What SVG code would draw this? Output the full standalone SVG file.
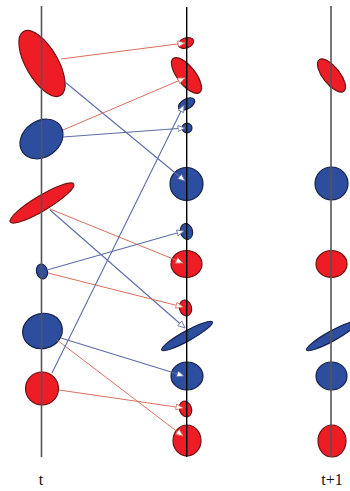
<svg xmlns="http://www.w3.org/2000/svg" width="350" height="491" viewBox="0 0 350 491">
<style>
.r{fill:#ee1c24;stroke:#6e1212;stroke-width:1.2}
.b{fill:#2d4d9e;stroke:#17224d;stroke-width:1.2}
.ax{stroke:#555;stroke-width:1.6}
.axm{stroke:#000;stroke-width:1.4}
.cr{stroke:#d9705f;stroke-width:1;fill:none;marker-end:url(#ar)}
.cb{stroke:#5d6ca6;stroke-width:1.1;fill:none;marker-end:url(#ab)}
.lbl{font-family:"Liberation Serif",serif;font-size:16px;fill:#111;text-anchor:middle}
</style>
<defs>
<marker id="ar" markerUnits="userSpaceOnUse" markerWidth="8" markerHeight="7" refX="7.5" refY="3.5" orient="auto"><path d="M0.5,0.5 L7.5,3.5 L0.5,6.5 z" fill="#fff" stroke="#d9705f" stroke-width="0.8"/></marker>
<marker id="ab" markerUnits="userSpaceOnUse" markerWidth="8" markerHeight="7" refX="7.5" refY="3.5" orient="auto"><path d="M0.5,0.5 L7.5,3.5 L0.5,6.5 z" fill="#fff" stroke="#5d6ca6" stroke-width="0.8"/></marker>
</defs>
<rect width="350" height="491" fill="#fff"/>
<!-- left column (t) -->
<g id="L1"><ellipse class="r" cx="0" cy="0" rx="37" ry="16" transform="translate(42,63.5) rotate(60)"/></g>
<g id="L2"><ellipse class="b" cx="0" cy="0" rx="23" ry="18" transform="translate(41.5,139) rotate(-35)"/></g>
<g id="L3"><ellipse class="r" cx="0" cy="0" rx="37" ry="7.5" transform="translate(42,203) rotate(-31)"/></g>
<g id="L4"><ellipse class="b" cx="0" cy="0" rx="5.5" ry="7.5" transform="translate(42,271.5) rotate(-15)"/></g>
<g id="L5"><ellipse class="b" cx="0" cy="0" rx="20" ry="17.5" transform="translate(42.5,331) rotate(-15)"/></g>
<g id="L6"><ellipse class="r" cx="42" cy="388.5" rx="16.5" ry="16.5"/></g>
<!-- middle column -->
<g id="M1"><ellipse class="r" cx="0" cy="0" rx="8" ry="5" transform="translate(186,43) rotate(-20)"/></g>
<g id="M2"><ellipse class="r" cx="0" cy="0" rx="21.5" ry="9" transform="translate(186.5,75.5) rotate(52)"/></g>
<g id="M3"><ellipse class="b" cx="0" cy="0" rx="9" ry="5" transform="translate(186.5,104) rotate(-30)"/></g>
<g id="M4"><ellipse class="b" cx="187" cy="128" rx="5" ry="4.8"/></g>
<g id="M5"><ellipse class="b" cx="186.5" cy="184" rx="16.5" ry="16.5"/></g>
<g id="M6"><ellipse class="b" cx="0" cy="0" rx="6" ry="8" transform="translate(186.5,231.5) rotate(-15)"/></g>
<g id="M7"><ellipse class="r" cx="186.5" cy="264" rx="15.5" ry="13.5"/></g>
<g id="M8"><ellipse class="r" cx="0" cy="0" rx="6" ry="8" transform="translate(185.5,308) rotate(-15)"/></g>
<g id="M9"><ellipse class="b" cx="0" cy="0" rx="29" ry="5" transform="translate(187,336) rotate(-29)"/></g>
<g id="M10"><ellipse class="b" cx="187" cy="376" rx="16" ry="14"/></g>
<g id="M11"><ellipse class="r" cx="0" cy="0" rx="6" ry="8" transform="translate(185.5,409) rotate(-20)"/></g>
<g id="M12"><ellipse class="r" cx="187" cy="440.5" rx="14" ry="15.5"/></g>
<!-- right column (t+1) -->
<g id="R1"><ellipse class="r" cx="0" cy="0" rx="20" ry="8.5" transform="translate(331.5,75.5) rotate(52)"/></g>
<g id="R2"><ellipse class="b" cx="331.5" cy="183.5" rx="16.5" ry="16.5"/></g>
<g id="R3"><ellipse class="r" cx="331.5" cy="264" rx="15.5" ry="13.5"/></g>
<g id="R4"><ellipse class="b" cx="0" cy="0" rx="29" ry="5" transform="translate(332,336) rotate(-29)"/></g>
<g id="R5"><ellipse class="b" cx="331.5" cy="376" rx="15.5" ry="14"/></g>
<g id="R6"><ellipse class="r" cx="332" cy="441" rx="14" ry="16"/></g>
<!-- axes -->
<g id="axes">
<line class="ax" x1="41.5" y1="6" x2="41.5" y2="457"/>
<line class="axm" x1="186.7" y1="7" x2="186.7" y2="457"/>
<line class="ax" x1="331" y1="6" x2="331" y2="457"/>
</g>
<!-- connectors -->
<g id="connectors">
<line class="cr" x1="61" y1="59" x2="185" y2="43"/>
<line class="cb" x1="65" y1="82" x2="185" y2="181"/>
<line class="cr" x1="63" y1="130" x2="185" y2="78"/>
<line class="cb" x1="63" y1="137" x2="185" y2="128"/>
<line class="cr" x1="50" y1="209" x2="183" y2="263"/>
<line class="cb" x1="50" y1="210" x2="185" y2="328"/>
<line class="cb" x1="47" y1="270" x2="184" y2="231"/>
<line class="cr" x1="48" y1="273" x2="183" y2="307"/>
<line class="cb" x1="61" y1="338" x2="184" y2="376"/>
<line class="cr" x1="57" y1="340" x2="183" y2="436"/>
<line class="cr" x1="59" y1="390" x2="183" y2="408"/>
<line class="cb" x1="52" y1="373" x2="184" y2="105"/>
</g>
<text class="lbl" x="41" y="485">t</text>
<text class="lbl" x="332" y="485">t+1</text>
</svg>
